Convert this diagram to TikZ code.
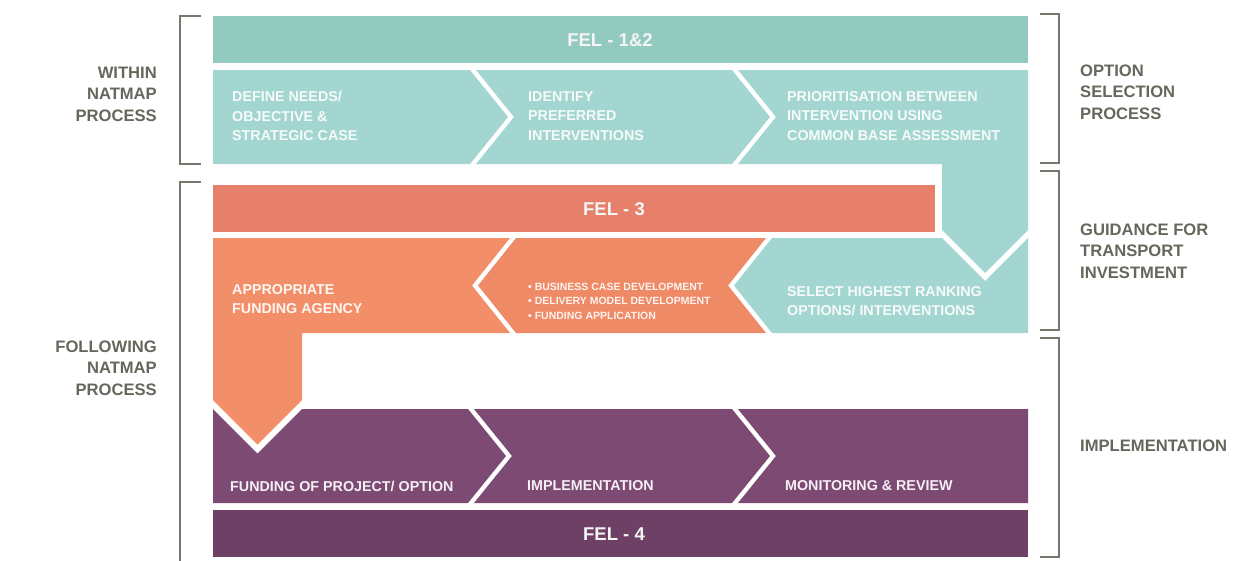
\documentclass[tikz,border=0pt]{standalone}
\usepackage{fontspec}
\setmainfont{Liberation Sans}
\definecolor{tealbar}{HTML}{93CAC0}
\definecolor{tealrow}{HTML}{A3D6D0}
\definecolor{orbar}{HTML}{E6806A}
\definecolor{orleft}{HTML}{F28F69}
\definecolor{ormid}{HTML}{EF8A66}
\definecolor{purrow}{HTML}{7C4A73}
\definecolor{purbar}{HTML}{6F4066}
\definecolor{brk}{HTML}{77776D}
\definecolor{lbl}{HTML}{66665C}
\tikzset{
  bracketline/.style={draw=brk, line width=2.4pt},
  sidelabel/.style={text=lbl, font=\fontsize{16.6}{21.5}\selectfont\bfseries, inner sep=0pt},
  fellabel/.style={text=white!92!gray, font=\fontsize{18.5}{20}\selectfont\bfseries, inner sep=0pt},
  boxtext/.style={text=white!90!tealrow, font=\fontsize{14.3}{19.5}\selectfont\bfseries, inner sep=0pt, anchor=west, align=left},
  smalltext/.style={text=white!90!ormid, font=\fontsize{10.5}{14.5}\selectfont\bfseries, inner sep=0pt, anchor=west, align=left}
}
\begin{document}
\begin{tikzpicture}[x=1pt,y=-1pt]
\useasboundingbox (0,0) rectangle (1255,560);
% teal
\fill[tealbar] (213,16) rectangle (1028,63);
\fill[tealrow] (213,70) -- (470,70) -- (508,117) -- (470,164) -- (213,164) -- cycle;
\fill[tealrow] (476,70) -- (732,70) -- (770,117) -- (732,164) -- (476,164) -- (514,117) -- cycle;
\fill[tealrow] (738,70) -- (1028,70) -- (1028,230) -- (985,273) -- (942,230) -- (942,164) -- (738,164) -- (776,117) -- cycle;
\fill[tealrow] (772,238) -- (942,238) -- (985,281) -- (1028,238) -- (1028,333) -- (772,333) -- (734,285.5) -- cycle;
% orange
\fill[orbar] (213,185) rectangle (935,232);
\fill[orleft] (213,238) -- (510,238) -- (472,285.5) -- (510,333) -- (302,333) -- (302,400) -- (257.5,444.5) -- (213,400) -- cycle;
\fill[ormid] (516,238) -- (766,238) -- (728,285.5) -- (766,333) -- (516,333) -- (478,285.5) -- cycle;
% purple
\fill[purrow] (213,409) -- (257.5,453.5) -- (302,409) -- (468,409) -- (506,456) -- (468,503) -- (213,503) -- cycle;
\fill[purrow] (474,409) -- (732,409) -- (770,456) -- (732,503) -- (474,503) -- (512,456) -- cycle;
\fill[purrow] (738,409) -- (1028,409) -- (1028,503) -- (738,503) -- (776,456) -- cycle;
\fill[purbar] (213,510) rectangle (1028,557);
% brackets
\draw[bracketline] (201,16) -- (180,16) -- (180,164) -- (201,164);
\draw[bracketline] (201,182) -- (180,182) -- (180,562);
\draw[bracketline] (1040,14) -- (1059,14) -- (1059,163) -- (1040,163);
\draw[bracketline] (1040,171) -- (1059,171) -- (1059,330) -- (1040,330);
\draw[bracketline] (1040,338) -- (1059,338) -- (1059,557) -- (1040,557);
% FEL labels
\node[fellabel] (fel12) at (610,40) {FEL - 1\&2};
\node[fellabel] (fel3) at (614,209) {FEL - 3};
\node[fellabel] (fel4) at (614,534) {FEL - 4};
% teal texts
\node[boxtext] (define) at (232,116) {DEFINE NEEDS/\\OBJECTIVE \&\\STRATEGIC CASE};
\node[boxtext] (identify) at (528,116) {IDENTIFY\\PREFERRED\\INTERVENTIONS};
\node[boxtext] (prior) at (787,116) {PRIORITISATION BETWEEN\\INTERVENTION USING\\COMMON BASE ASSESSMENT};
\node[boxtext] (select) at (787,301) {SELECT HIGHEST RANKING\\OPTIONS/ INTERVENTIONS};
% orange texts
\node[boxtext, text=white!92!orleft] (agency) at (232,299) {APPROPRIATE\\FUNDING AGENCY};
\node[smalltext] (bullets) at (528,301) {• BUSINESS CASE DEVELOPMENT\\• DELIVERY MODEL DEVELOPMENT\\• FUNDING APPLICATION};
% purple texts
\node[boxtext, text=white!92!purrow] (funding) at (230,486) {FUNDING OF PROJECT/ OPTION};
\node[boxtext, text=white!92!purrow] (impl) at (527,486) {IMPLEMENTATION};
\node[boxtext, text=white!92!purrow] (monitor) at (785,486) {MONITORING \& REVIEW};
% side labels
\node[sidelabel, anchor=east, align=right] (within) at (157,94) {WITHIN\\NATMAP\\PROCESS};
\node[sidelabel, anchor=east, align=right] (following) at (157,368) {FOLLOWING\\NATMAP\\PROCESS};
\node[sidelabel, anchor=west, align=left] (option) at (1080,92) {OPTION\\SELECTION\\PROCESS};
\node[sidelabel, anchor=west, align=left] (guidance) at (1080,251) {GUIDANCE FOR\\TRANSPORT\\INVESTMENT};
\node[sidelabel, anchor=west, align=left] (implab) at (1080,446) {IMPLEMENTATION};
\end{tikzpicture}
\end{document}
